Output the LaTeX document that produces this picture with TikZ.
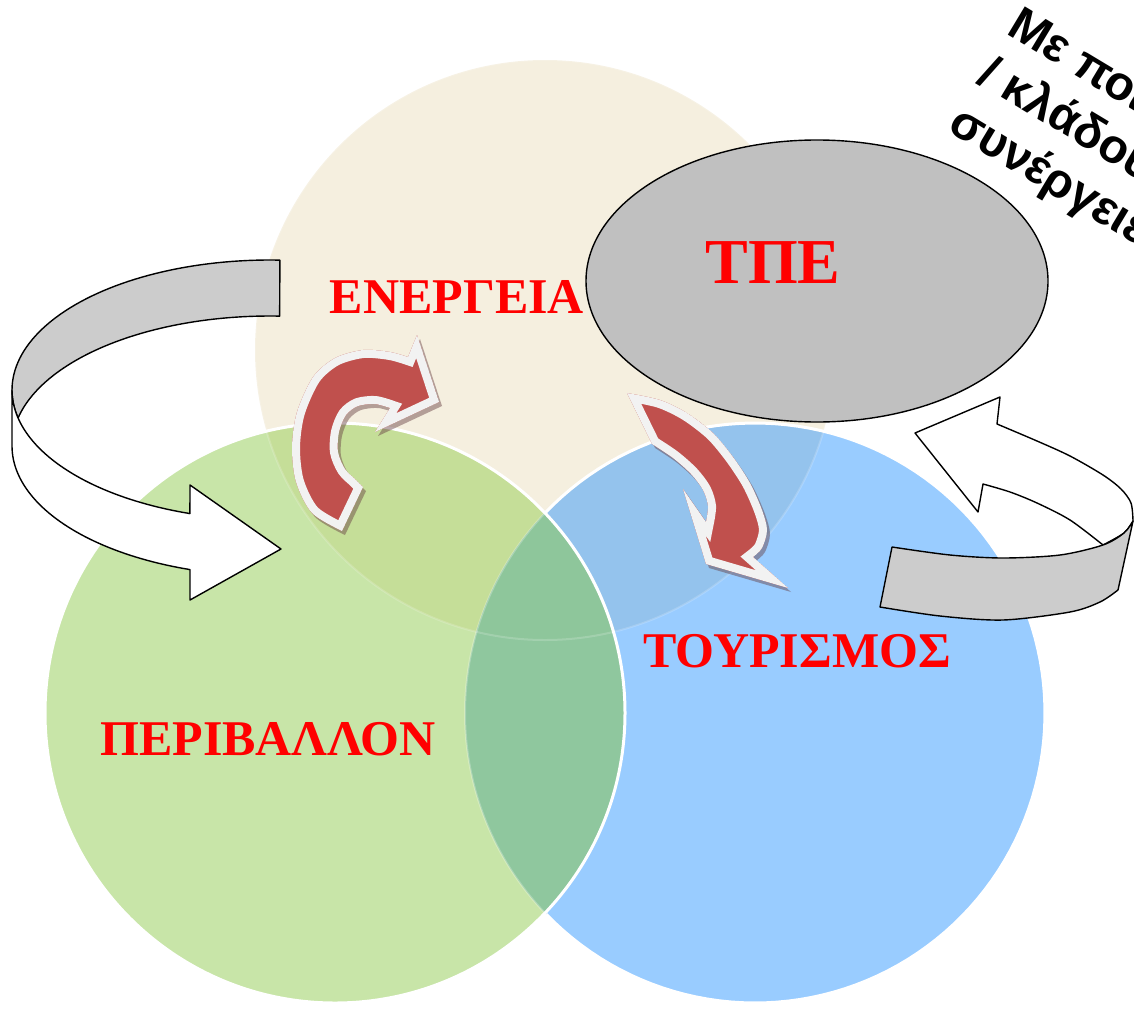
\documentclass[tikz,border=0pt]{standalone}
\usepackage{fontspec}
\setmainfont{Liberation Serif}
\newfontfamily\sansgr{Liberation Sans}
\definecolor{beigeC}{RGB}{245,239,223}
\definecolor{greenC}{RGB}{200,229,168}
\definecolor{blueC}{RGB}{153,204,255}
\definecolor{bgC}{RGB}{197,222,152}
\definecolor{blC}{RGB}{148,195,237}
\definecolor{glC}{RGB}{143,199,158}
\definecolor{bglC}{RGB}{142,198,155}
\definecolor{tpegray}{RGB}{192,192,192}
\definecolor{ribgray}{RGB}{204,204,204}
\definecolor{arrowred}{RGB}{192,80,77}
\definecolor{borderw}{RGB}{242,242,242}
\definecolor{shadowc}{RGB}{100,60,65}
\begin{document}
\begin{tikzpicture}[x=1pt,y=-1pt,
  edge/.style={draw=black, line width=1.4pt, line join=round},
  lbl/.style={text=red, font=\bfseries\fontsize{50}{60}\selectfont, inner sep=0pt, anchor=base},
  rot/.style={text=black, font=\sansgr\bfseries\fontsize{48}{57}\selectfont, inner sep=0pt, anchor=base west, rotate=-31},
  shad/.style={fill=shadowc, opacity=0.45}]
\useasboundingbox (0,0) rectangle (1134,1009);
\clip (0,0) rectangle (1134,1009);
\def\Bc{(545,350) circle[radius=290]}
\def\Gc{(335,713) circle[radius=290]}
\def\Lc{(755,713) circle[radius=290]}
% circles
\fill[beigeC] \Bc;
\fill[blueC] \Lc;
\fill[greenC] \Gc;
\begin{scope}
  \clip \Bc;
  \fill[bgC] \Gc;
  \fill[blC] \Lc;
\end{scope}
\begin{scope}
  \clip \Gc;
  \fill[glC] \Lc;
  \begin{scope}
    \clip \Bc;
    \fill[bglC] \Lc;
  \end{scope}
\end{scope}
\draw[white, opacity=0.18, line width=2pt] \Bc;
\draw[white, opacity=0.25, line width=2pt] \Lc;
\draw[white, line width=3pt] \Gc;
\draw[white, line width=3pt] plot[domain=0:1, samples=120] ({755+290*cos(223.6+272.8*\x)},{713+290*sin(223.6+272.8*\x)});
% TPE ellipse
\filldraw[fill=tpegray, edge] (817,281) ellipse[x radius=231, y radius=141];
% left ribbon arrow
\filldraw[fill=ribgray, edge]
  plot[domain=0:1, samples=60] ({270+258*cos(272.2-104.6*\x)},{390+130*sin(272.2-104.6*\x)})
  -- plot[domain=0:1, samples=60] ({270+258*cos(192.4+79.8*\x)},{446+130*sin(192.4+79.8*\x)})
  -- cycle;
\filldraw[fill=white, edge]
  plot[domain=0:1, samples=50] ({270+258*cos(180-71.94*\x)},{390+130*sin(180-71.94*\x)})
  -- (190,485) -- (281,549) -- (190,600)
  -- plot[domain=0:1, samples=50] ({270+258*cos(108.06+71.94*\x)},{446+130*sin(108.06+71.94*\x)})
  -- cycle;
% right ribbon arrow
\filldraw[fill=white, edge]
  plot[smooth] coordinates {(1133,521) (1131,503) (1121,489) (1103,475) (1070,456) (1037,441) (997,424)}
  -- (1000,397) -- (915,433) -- (978,512)
  -- plot[smooth] coordinates {(983,484) (1010,492) (1037,503) (1070,520) (1103,545)}
  -- plot[smooth] coordinates {(1103,545) (1124,533) (1133,521)}
  -- cycle;
\filldraw[fill=ribgray, edge]
  plot[smooth] coordinates {(892,547) (950,555) (1003,558) (1060,555) (1103,545) (1124,533) (1133,521)}
  -- (1118,590)
  -- plot[smooth] coordinates {(1118,590) (1100,602) (1070,612) (1003,620) (940,616) (880,607)}
  -- cycle;
% red curved arrows
\def\redL{plot[smooth] coordinates {(342,531) (312,513) (296,482) (292,447) (297,412) (313,377) (335,358) (363,350) (390,352) (408,357)} -- (417,335) -- (439,402) -- (375,432) -- (390,408) -- plot[smooth] coordinates {(390,408) (375,404) (358,406) (346,415) (339,432) (338,452) (345,469) (356,480) (363,487)} -- cycle}
\def\redR{plot[smooth] coordinates {(627,393) (660,400) (687,413) (713,433) (733,457) (750,483) (762,510) (767,530) (762,548) (753,557)} -- (788,588) -- (706,564) -- (683,489) -- (706,522) -- plot[smooth] coordinates {(706,522) (708,506) (703,490) (691,474) (673,458) (652,444)} -- cycle}
\fill[shad, shift={(3,4)}] \redL;
\begin{scope}
  \clip \redL;
  \fill[arrowred] \redL;
  \draw[borderw, line width=16pt, line join=miter] \redL;
\end{scope}
\fill[shad, shift={(3,4)}] \redR;
\begin{scope}
  \clip \redR;
  \fill[arrowred] \redR;
  \draw[borderw, line width=16pt, line join=miter] \redR;
\end{scope}
% labels
\node[lbl] (energy) at (457,313) {ΕΝΕΡΓΕΙΑ};
\node[lbl, font=\bfseries\fontsize{64}{72}\selectfont] (tpe) at (773,283) {ΤΠΕ};
\node[lbl] (tour) at (797,667) {ΤΟΥΡΙΣΜΟΣ};
\node[lbl] (env) at (268,755) {ΠΕΡΙΒΑΛΛΟΝ};
\node[rot] (q1) at (1005,33) {Με ποιους τομείς};
\node[rot] (q2) at (975.6,81.9) {/ κλάδους υπάρχουν};
\node[rot] (q3) at (946.2,130.8) {συνέργειες;};
\end{tikzpicture}
\end{document}
